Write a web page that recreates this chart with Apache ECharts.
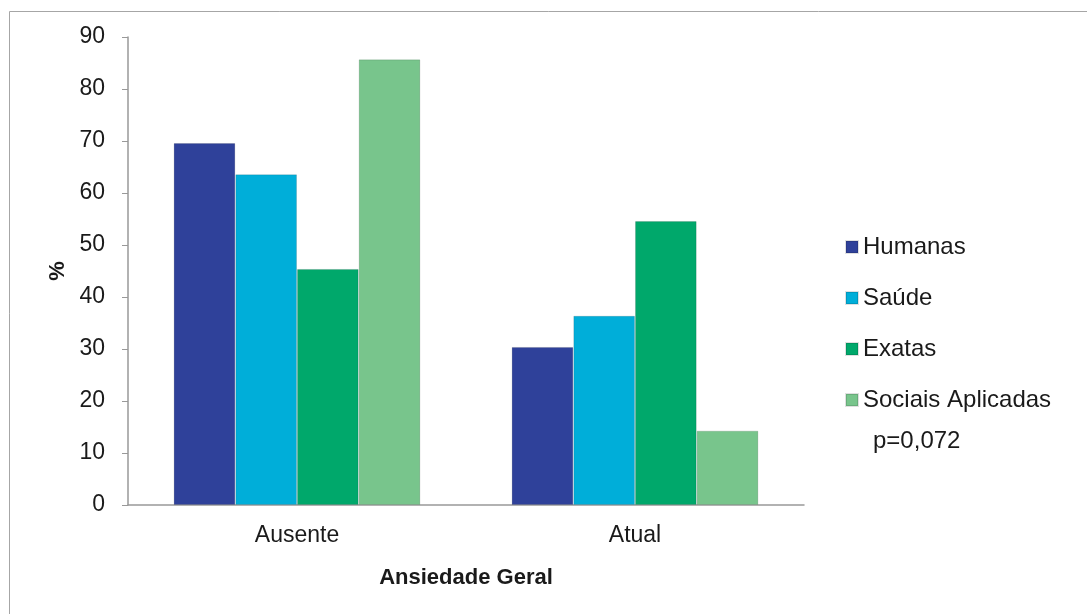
<!DOCTYPE html>
<html>
<head>
<meta charset="utf-8">
<script src="https://cdn.jsdelivr.net/npm/echarts@6/dist/echarts.min.js"></script>
<style>
html,body{margin:0;padding:0;background:#fff;}
#c{width:1087px;height:614px;}
</style>
</head>
<body>
<div id="c"></div>
<script>
const categories = ['Ausente', 'Atual'];
const seriesNames = ['Humanas', 'Saúde', 'Exatas', 'Sociais Aplicadas'];
const humanas = [69.6, 30.4];
const saude = [63.6, 36.4];
const exatas = [45.4, 54.6];
const sociais = [85.7, 14.3];
const yTicks = [0, 10, 20, 30, 40, 50, 60, 70, 80, 90];
const colors = ['#2F419A', '#00AED9', '#00A86B', '#78C58C'];
const values = [humanas, saude, exatas, sociais];

const font = 'Liberation Sans, Arial, sans-serif';
const fs = 23;
const chart = echarts.init(document.getElementById('c'), null, {renderer: 'canvas'});
chart.setOption({
  animation: false,
  backgroundColor: '#fff',
  textStyle: {fontFamily: font},
  graphic: [{
    type: 'rect', left: 7, top: 9,
    shape: {width: 1200, height: 1200},
    style: {fill: 'none', stroke: '#a6a6a6', lineWidth: 1}, silent: true, z: -10
  }, {
    type: 'text', left: 873, top: 429,
    style: {text: 'p=0,072', font: '24px ' + font, fill: '#1a1a1a'}
  }],
  grid: {left: 128, right: 283, top: 37, bottom: 109},
  legend: {
    orient: 'vertical', left: 840, top: 230,
    itemWidth: 12, itemHeight: 12, itemGap: 27,
    icon: 'rect',
    textStyle: {fontSize: 24, color: '#1a1a1a', fontFamily: font},
    data: seriesNames
  },
  xAxis: {
    type: 'category', data: categories,
    name: 'Ansiedade Geral', nameLocation: 'middle', nameGap: 62,
    nameTextStyle: {fontSize: 22, fontWeight: 'bold', color: '#1a1a1a', fontFamily: font},
    axisLine: {lineStyle: {color: '#999', width: 1.5}},
    axisTick: {show: false},
    axisLabel: {fontSize: fs, color: '#1a1a1a', margin: 19, fontFamily: font}
  },
  yAxis: {
    type: 'value', min: yTicks[0], max: yTicks[yTicks.length - 1], interval: 10,
    name: '%', nameLocation: 'middle', nameGap: 57, nameRotate: 90,
    nameTextStyle: {fontSize: 22, fontWeight: 'bold', color: '#1a1a1a', fontFamily: font},
    axisLine: {show: true, lineStyle: {color: '#999', width: 1.5}},
    axisTick: {show: true, length: 6, lineStyle: {color: '#999'}},
    splitLine: {show: false},
    axisLabel: {fontSize: fs, color: '#1a1a1a', margin: 23, fontFamily: font}
  },
  series: seriesNames.map((n, i) => ({
    name: n, type: 'bar', data: values[i],
    barGap: '0%', barCategoryGap: '27%',
    itemStyle: {color: colors[i], borderColor: 'rgba(0,0,0,0.12)', borderWidth: 1}
  }))
});
</script>
</body>
</html>
